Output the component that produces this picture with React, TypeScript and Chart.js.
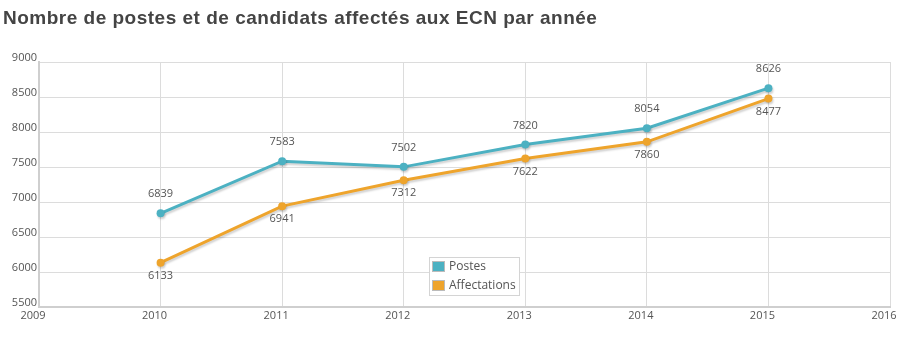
import React, { useEffect, useRef } from "react";
import { Chart, registerables } from "chart.js";

Chart.register(...registerables);

const TITLE = "Nombre de postes et de candidats affectés aux ECN par année";
const years = [2010, 2011, 2012, 2013, 2014, 2015];
const postes = [6839, 7583, 7502, 7820, 8054, 8626];
const affectations = [6133, 6941, 7312, 7622, 7860, 8477];
const seriesNames = ["Postes", "Affectations"];
const seriesColors = ["#4cb1c2", "#eea42c"];
const xMin = 2009;
const xMax = 2016;
const yMin = 5500;
const yMax = 9000;
const yStep = 500;

const TICK_FONT = { family: "'Open Sans', 'DejaVu Sans', sans-serif", size: 11 };
const TEXT_COLOR = "#555";

const titlePlugin = {
  id: "titleText",
  afterDraw(chart: any) {
    const ctx = chart.ctx;
    ctx.save();
    ctx.font = "bold 19px 'Liberation Sans', Arial, sans-serif";
    try {
      (ctx as any).letterSpacing = "0.5px";
    } catch (e) {}
    ctx.fillStyle = "#444";
    ctx.textAlign = "left";
    ctx.textBaseline = "alphabetic";
    ctx.fillText(TITLE, 3, 24);
    ctx.restore();
  },
};

const shadowPlugin = {
  id: "lineShadow",
  beforeDatasetsDraw(chart: any) {
    const ctx = chart.ctx;
    ctx.save();
    ctx.shadowColor = "rgba(0,0,0,0.18)";
    ctx.shadowOffsetX = 1;
    ctx.shadowOffsetY = 2;
    ctx.shadowBlur = 2;
  },
  afterDatasetsDraw(chart: any) {
    chart.ctx.restore();
  },
};

const labelsPlugin = {
  id: "pointLabels",
  afterDatasetsDraw(chart: any) {
    const ctx = chart.ctx;
    ctx.save();
    ctx.font = `${TICK_FONT.size}px ${TICK_FONT.family}`;
    ctx.fillStyle = TEXT_COLOR;
    ctx.textAlign = "center";
    ctx.textBaseline = "middle";
    chart.data.datasets.forEach((ds: any, di: number) => {
      const meta = chart.getDatasetMeta(di);
      meta.data.forEach((pt: any, i: number) => {
        const v = ds.data[i].y;
        const dy = di === 0 ? -19 : 13;
        ctx.fillText(String(v), pt.x, pt.y + dy);
      });
    });
    ctx.restore();
  },
};

const legendPlugin = {
  id: "boxLegend",
  afterDraw(chart: any) {
    const ctx = chart.ctx;
    const area = chart.chartArea;
    const x = area.left + 390;
    const y = area.bottom - 50;
    const w = 90;
    const h = 38;
    ctx.save();
    ctx.fillStyle = "#fff";
    ctx.fillRect(x, y, w, h);
    ctx.strokeStyle = "#d4d4d4";
    ctx.lineWidth = 1;
    ctx.strokeRect(x + 0.5, y + 0.5, w, h);
    ctx.font = "12px 'Open Sans', 'DejaVu Sans', sans-serif";
    ctx.textBaseline = "middle";
    ctx.textAlign = "left";
    seriesNames.forEach((name, i) => {
      const cy = y + 9 + i * 19;
      ctx.fillStyle = seriesColors[i];
      ctx.fillRect(x + 3, cy - 5, 13, 11);
      ctx.strokeStyle = "#bbb";
      ctx.strokeRect(x + 3.5, cy - 4.5, 12, 10);
      ctx.fillStyle = TEXT_COLOR;
      ctx.fillText(name, x + 20, cy + 0.5);
    });
    ctx.restore();
  },
};

export default function App() {
  const ref = useRef<HTMLCanvasElement | null>(null);
  useEffect(() => {
    document.body.style.margin = "0";
    const canvas = ref.current;
    if (!canvas) return;
    const mk = (vals: number[]) => years.map((yr, i) => ({ x: yr, y: vals[i] }));
    const chart = new Chart(canvas, {
      type: "line",
      data: {
        datasets: [
          {
            label: seriesNames[0],
            data: mk(postes),
            borderColor: seriesColors[0],
            backgroundColor: seriesColors[0],
            borderWidth: 3,
            pointRadius: 4,
            pointBorderWidth: 0,
            tension: 0,
          },
          {
            label: seriesNames[1],
            data: mk(affectations),
            borderColor: seriesColors[1],
            backgroundColor: seriesColors[1],
            borderWidth: 3,
            pointRadius: 4,
            pointBorderWidth: 0,
            tension: 0,
          },
        ],
      },
      options: {
        animation: false,
        responsive: true,
        maintainAspectRatio: false,
        layout: { padding: { top: 62, right: 10, left: 0, bottom: 0 } },
        plugins: {
          legend: { display: false },
          title: { display: false },
          tooltip: { enabled: false },
        },
        scales: {
          x: {
            type: "linear",
            min: xMin,
            max: xMax,
            ticks: {
              stepSize: 1,
              callback: (v: any) => String(v),
              font: TICK_FONT,
              color: TEXT_COLOR,
              padding: 2,
              labelOffset: -6,
              maxRotation: 0,
              autoSkip: false,
            },
            grid: { color: "#dcdcdc", lineWidth: 1, drawTicks: false },
            border: { color: "#cfcfcf", width: 2 },
            afterFit: (s: any) => {
              s.height = 33;
              s.paddingLeft = 0;
              s.paddingRight = 0;
            },
          },
          y: {
            min: yMin,
            max: yMax,
            ticks: {
              stepSize: yStep,
              callback: (v: any) => String(v),
              font: TICK_FONT,
              color: TEXT_COLOR,
              padding: 2,
              labelOffset: -4,
            },
            grid: { color: "#dcdcdc", lineWidth: 1, drawTicks: false },
            border: { color: "#cfcfcf", width: 2 },
            afterFit: (s: any) => {
              s.width = 39;
              s.paddingTop = 0;
              s.paddingBottom = 0;
            },
          },
        },
      },
      plugins: [titlePlugin, shadowPlugin, labelsPlugin, legendPlugin],
    } as any);
    return () => chart.destroy();
  }, []);
  return (
    <div style={{ width: 900, height: 340, position: "relative", background: "#fff" }}>
      <canvas ref={ref} />
    </div>
  );
}
